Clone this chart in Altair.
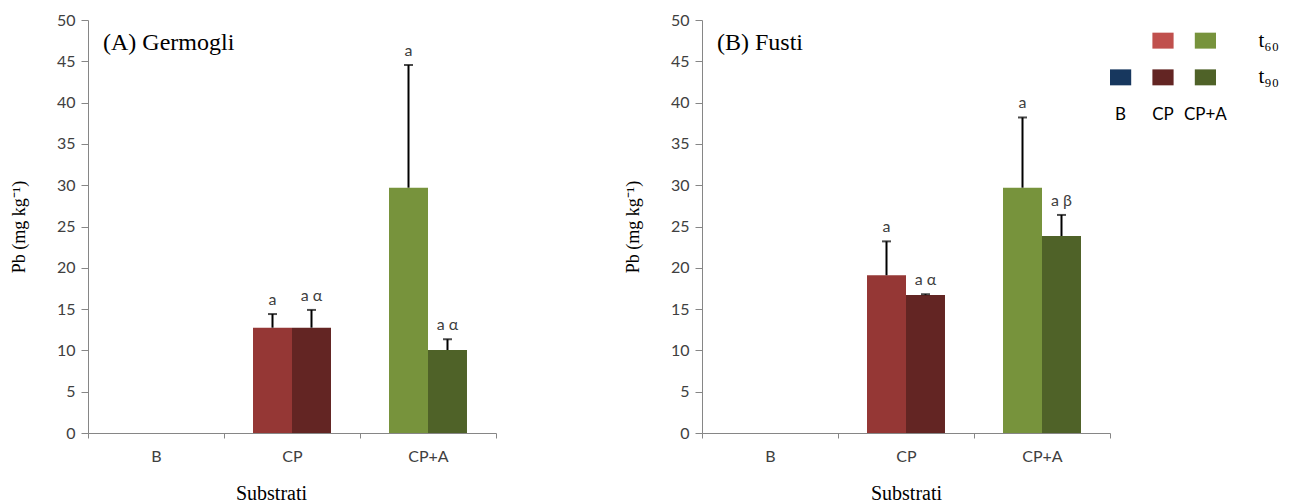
import altair as alt
import pandas as pd

# ---- data ----
substrates = ["B", "CP", "CP+A"]
times = ["t60", "t90"]
bar_sub = ["CP", "CP", "CP+A", "CP+A"]
bar_time = ["t60", "t90", "t60", "t90"]
germ_mean = [12.75, 12.75, 29.7, 10.05]
germ_err = [14.4, 14.9, 44.55, 11.35]
germ_lbl = ["a", "a α", "a", "a α"]
fusti_mean = [19.1, 16.7, 29.7, 23.85]
fusti_err = [23.2, 16.8, 38.2, 26.4]
fusti_lbl = ["a", "a α", "a", "a β"]
bar_keys = ["CP t60", "CP t90", "CP+A t60", "CP+A t90"]
bar_colors = ["#953735", "#632523", "#77933C", "#4F6228"]
y_ticks = [0, 5, 10, 15, 20, 25, 30, 35, 40, 45, 50]

leg_sub = ["CP", "CP+A", "B", "CP", "CP+A"]
leg_row = ["t₆₀", "t₆₀", "t₉₀", "t₉₀", "t₉₀"]
leg_rows = ["t₆₀", "t₉₀"]
leg_colors = ["#C0504D", "#77933C", "#17375E", "#632523", "#4F6228"]

SERIF = "Liberation Serif"
SANS = "Lato"


def panel(mean, err, lbl, title, xtitle_x=None):
    df = pd.DataFrame({"sub": bar_sub, "time": bar_time, "mean": mean,
                       "err": err, "lbl": lbl, "key": bar_keys})
    xaxis = dict(title="Substrati", tickBand="extent", tickSize=5,
                 labelPadding=10, titlePadding=19, labelAngle=0)
    if xtitle_x is not None:
        xaxis["titleX"] = xtitle_x
    x = alt.X("sub:N", scale=alt.Scale(domain=substrates, paddingInner=0, paddingOuter=0),
              axis=alt.Axis(**xaxis))
    xo = alt.XOffset("time:N", scale=alt.Scale(domain=times, paddingInner=0, paddingOuter=0.744))
    y = alt.Y("mean:Q", scale=alt.Scale(domain=[0, 50], nice=False),
              axis=alt.Axis(values=y_ticks, title="Pb (mg kg⁻¹)", grid=False,
                            tickSize=7, labelPadding=6, titlePadding=28,
                            titleFontSize=18))
    bars = alt.Chart().mark_bar().encode(
        x=x, xOffset=xo, y=y,
        color=alt.Color("key:N", scale=alt.Scale(domain=bar_keys, range=bar_colors), legend=None))
    rule = alt.Chart().mark_rule(color="black", strokeWidth=2).encode(
        x=x, xOffset=xo, y="mean:Q", y2="err:Q")
    cap = alt.Chart().mark_tick(color="black", thickness=2, size=9).encode(
        x=x, xOffset=xo, y="err:Q")
    txt = alt.Chart().mark_text(font=SANS, fontSize=16, color="#404040",
                                baseline="middle", dy=-14).encode(
        x=x, xOffset=xo, y="err:Q", text="lbl:N")
    return alt.layer(bars, rule, cap, txt, data=df).properties(
        width=408, height=413,
        title=alt.TitleParams(title, anchor="start", frame="group", offset=-43, dx=15,
                              font=SERIF, fontSize=24, fontWeight="normal", color="black"))


left = panel(germ_mean, germ_err, germ_lbl, "(A) Germogli", xtitle_x=183)
right = panel(fusti_mean, fusti_err, fusti_lbl, "(B) Fusti")

leg_df = pd.DataFrame({"sub": leg_sub, "row": leg_row, "col": leg_colors})
legend = alt.Chart(leg_df).mark_rect().encode(
    x=alt.X("sub:N", scale=alt.Scale(domain=substrates, paddingInner=0.5, paddingOuter=0),
            axis=alt.Axis(orient="bottom", title=None, ticks=False, tickSize=0, domain=False,
                          labelPadding=8, labelFontSize=17, labelAngle=0, labelColor="black")),
    y=alt.Y("row:N", scale=alt.Scale(domain=leg_rows, paddingInner=0.565, paddingOuter=0.345),
            axis=alt.Axis(orient="right", title=None, ticks=False, tickSize=0, domain=False,
                          labelPadding=42, labelFont=SERIF, labelFontSize=21, labelColor="black")),
    color=alt.Color("col:N", scale=None),
).properties(width=106, height=78)

chart = alt.hconcat(
    left,
    alt.hconcat(right, legend, spacing=0, bounds="flush"),
    spacing=127,
).properties(
    padding={"left": 10, "top": 12, "right": 5, "bottom": 0}
).configure_view(stroke=None).configure_axis(
    domainColor="#868686", tickColor="#868686", labelFont=SANS, labelFontSize=16,
    labelColor="#404040", titleFont=SERIF, titleFontSize=20, titleFontWeight="normal",
    titleColor="black"
)

chart.save("out.html", embed_options={"renderer": "svg", "actions": False})
